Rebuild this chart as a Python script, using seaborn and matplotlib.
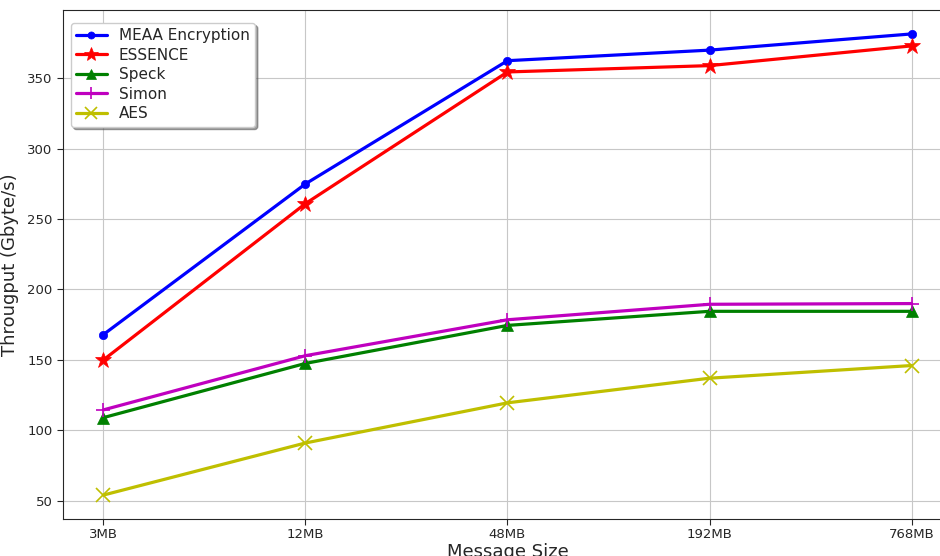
import matplotlib
matplotlib.use("Agg")
import matplotlib.pyplot as plt
import seaborn as sns
import pandas as pd

sizes = ["3MB", "12MB", "48MB", "192MB", "768MB"]
meaa = [168, 275, 362.5, 370, 381.5]
essence = [150, 261, 354.5, 359, 373]
speck = [109, 147.5, 174.5, 184.5, 184.5]
simon = [114.5, 153, 178.5, 189.5, 190]
aes = [54, 91, 119.5, 137, 146]

series = [
    ("MEAA Encryption", meaa, "b", "o", 6),
    ("ESSENCE", essence, "r", "*", 12),
    ("Speck", speck, "g", "^", 9),
    ("Simon", simon, "m", "+", 10),
    ("AES", aes, "y", "x", 10),
]

sns.set_style("whitegrid", {
    "axes.edgecolor": "0.15",
    "grid.color": "0.78",
    "xtick.bottom": True,
    "ytick.left": True,
})
plt.rcParams["font.family"] = ["DejaVu Sans"]

fig = plt.figure(figsize=(9.4, 5.56), dpi=100)
ax = fig.add_axes([63 / 940, 1 - 519 / 556, 889 / 940, 509 / 556])

pos = list(range(len(sizes)))
for name, vals, color, marker, ms in series:
    df = pd.DataFrame({"x": pos, "y": vals})
    sns.lineplot(data=df, x="x", y="y", ax=ax, color=color, marker=marker,
                 markersize=ms, linewidth=2.3, label=name,
                 markeredgecolor=color, markeredgewidth=1.2 if marker in "+x" else 0.5)

ax.set_xlim(-0.2, 4.2)
ax.set_ylim(37, 398.5)
ax.set_xticks(pos)
ax.set_xticklabels(sizes)
ax.set_yticks([50, 100, 150, 200, 250, 300, 350])
ax.tick_params(labelsize=9.5, colors="0.15", length=4)
ax.tick_params(axis="x", pad=2.5)
ax.grid(True, linewidth=0.8)
ax.set_xlabel("Message Size", fontsize=13)
ax.set_ylabel("Througput (Gbyte/s)", fontsize=13)
ax.yaxis.set_label_coords(-0.049, 0.5)
ax.xaxis.set_label_coords(0.5, -0.047)

leg = ax.legend(loc="upper left", fontsize=11, frameon=True, fancybox=True,
                shadow=True, framealpha=1, borderpad=0.35, handlelength=2.0,
                labelspacing=0.3, bbox_to_anchor=(0.0, 0.99), markerscale=0.85)
leg.get_frame().set_edgecolor("0.8")

fig.savefig("out.png", dpi=100)
